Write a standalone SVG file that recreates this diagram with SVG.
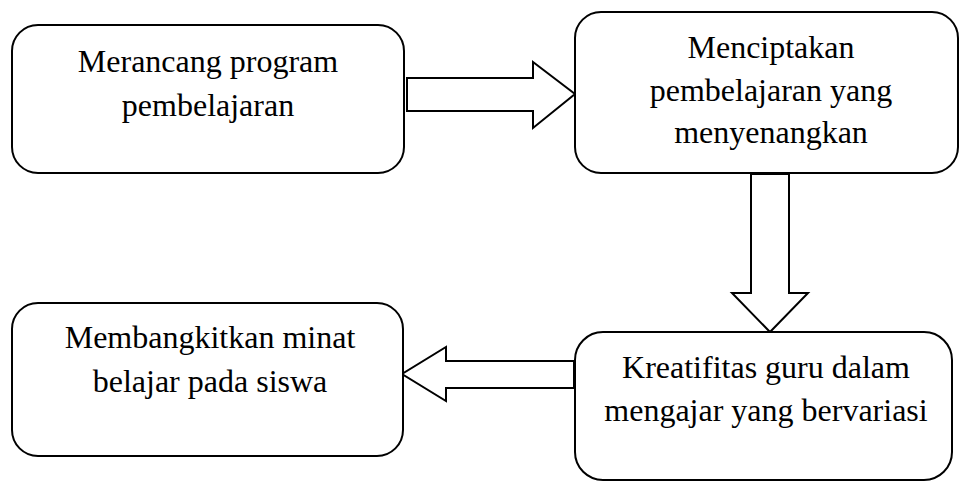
<svg xmlns="http://www.w3.org/2000/svg" width="960" height="481" viewBox="0 0 960 481">
<style>
.box{fill:#fff;stroke:#000;stroke-width:2}
.arrow{fill:#fff;stroke:#000;stroke-width:2;stroke-linejoin:miter}
text{font-family:"Liberation Serif","Times New Roman",serif;font-size:32px;fill:#000;text-anchor:middle}
</style>
<rect width="960" height="481" fill="#fff"/>
<g id="connectors">
<polygon class="arrow" points="407,78 533,78 533,62 575,94 533,128 533,111 407,111"/>
<polygon class="arrow" points="751,174 789,174 789,293 808,293 770,332 732,293 751,293"/>
<polygon class="arrow" points="574,361 446,361 446,347 402,374 446,401 446,388 574,388"/>
</g>
<g id="node1">
<rect class="box" x="12" y="25" width="392" height="148" rx="26" ry="26"/>
<text x="208" y="72">Merancang program</text>
<text x="208" y="116">pembelajaran</text>
</g>
<g id="node2">
<rect class="box" x="575" y="12" width="383" height="161" rx="26" ry="26"/>
<text x="771" y="58">Menciptakan</text>
<text x="771" y="101">pembelajaran yang</text>
<text x="771" y="143">menyenangkan</text>
</g>
<g id="node3">
<rect class="box" x="12" y="303" width="391" height="153" rx="26" ry="26"/>
<text x="210" y="348">Membangkitkan minat</text>
<text x="210" y="392">belajar pada siswa</text>
</g>
<g id="node4">
<rect class="box" x="575" y="332" width="377" height="148" rx="28" ry="28"/>
<text x="766" y="378">Kreatifitas guru dalam</text>
<text x="766" y="421">mengajar yang bervariasi</text>
</g>
</svg>
